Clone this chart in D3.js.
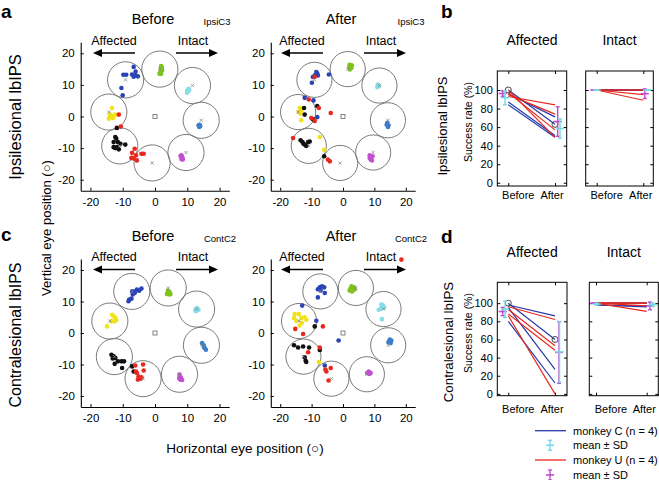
<!DOCTYPE html>
<html><head><meta charset="utf-8">
<script src="https://cdn.jsdelivr.net/npm/d3@7"></script>
<style>body{margin:0;background:#fff}svg{display:block;font-family:"Liberation Sans",Arial,sans-serif}</style>
</head><body><script>
// ---------------- DATA ----------------
const colorKeys = ["B","G","C","S","M","R","K","Y"];
const dotColors = ["#2b44b5","#7dc21e","#86dde9","#3d7ec9","#c24fcf","#e8281f","#111111","#f2e21b"];
const axisTicks = [-20,-10,0,10,20];
const rateTicks = [0,20,40,60,80,100];
const phaseLabels = ["Before","After"];

// target centres (deg), order = colorKeys
const ipsiTargets = [[-9.1,11.6],[1.5,15.0],[11.6,9.8],[14.3,-1.2],[9.6,-11.4],[-0.9,-14.7],[-10.9,-9.3],[-14.3,1.4]];
const contTargets = [[-7.2,13.2],[4.1,14.3],[12.9,7.6],[14.4,-3.9],[7.6,-13.1],[-3.7,-14.5],[-12.6,-7.5],[-14.0,3.8]];

// fixation end points (deg)
const ipsiBefore = [
 [-9.8,13.2,"B"],[-8.9,13.2,"B"],[-7.1,13.3,"B"],[-6.6,15.7,"B"],[-6.1,13.0,"B"],[-5.3,12.7,"B"],[-6.6,12.6,"B"],[-10.4,9.0,"B"],[-10.0,6.7,"B"],[-6.0,14.2,"B"],
 [1.9,16,"G"],[1.8,15.1,"G"],[2.2,14.6,"G"],[1.6,14,"G"],[1.9,13.5,"G"],[1.4,13.5,"G"],[2.1,15.5,"G"],
 [10.4,8.8,"C"],[10.2,7.9,"C"],[9.9,7.5,"C"],[10.6,8.4,"C"],[10.0,8.2,"C"],
 [13.5,-2.8,"S"],[13.7,-3.3,"S"],[14,-3.0,"S"],[13.8,-2.6,"S"],
 [8.2,-12.3,"M"],[8.4,-12.8,"M"],[8.6,-13.6,"M"],[8.2,-13.5,"M"],[7.9,-12.5,"M"],[8.5,-13.2,"M"],
 [-13.3,2.7,"Y"],[-13.8,0.6,"Y"],[-14.3,-0.7,"Y"],[-13.7,-0.2,"Y"],[-12.8,0.2,"Y"],[-12.3,0.6,"Y"],[-13.0,-0.5,"Y"],[-14.0,0.2,"Y"],
 [-11.8,-3.6,"K"],[-12.3,-6.5,"K"],[-12,-7.0,"K"],[-12.8,-8.1,"K"],[-11.5,-8.1,"K"],[-12.3,-10,"K"],[-12.8,-9.7,"K"],[-11.2,-10.4,"K"],[-10.7,-8.6,"K"],[-9.2,-8.9,"K"],[-11.8,-9.7,"K"],
 [-11.2,0.6,"R"],[-10.6,-3.2,"R"],[-6.3,-10.2,"R"],[-7.1,-11.5,"R"],[-5.9,-12.3,"R"],[-5.6,-13.9,"R"],[-6.6,-13.3,"R"],[-7.3,-13.1,"R"],[-4.2,-11.8,"R"],[-3.5,-11.8,"R"]
];
const ipsiAfter = [
 [-8.5,14.1,"B"],[-8.2,13.6,"B"],[-8,13.0,"B"],[-9,13.0,"B"],[-9.6,12.5,"B"],[-9.9,10.7,"B"],[-4.5,13.3,"B"],[-12.2,5.9,"B"],[-9.4,5.1,"B"],[-8.2,-0.2,"B"],
 [2.1,16.4,"G"],[2.4,16,"G"],[2.7,15.4,"G"],[2.2,14.9,"G"],[2,15.7,"G"],[2.8,16.2,"G"],
 [11.1,10.1,"C"],[11.4,9.6,"C"],[10.9,9.3,"C"],
 [14.1,-2,"S"],[14.5,-2.8,"S"],[14.3,-3.3,"S"],[13.9,-2.6,"S"],
 [8.5,-12.3,"M"],[9,-12.8,"M"],[8.8,-13.6,"M"],[9.4,-12.6,"M"],[8.5,-13.1,"M"],[9.2,-13.9,"M"],
 [-13.8,2.7,"Y"],[-13.3,2.0,"Y"],[-14.1,1.4,"Y"],[-13.5,0.9,"Y"],[-13,2.5,"Y"],[-13.3,-1.2,"Y"],[-7.4,-6.5,"Y"],[-6,-10.5,"Y"],
 [-8.2,3.3,"K"],[-12.4,2.7,"K"],[-12.2,0.6,"K"],[-9.6,-0.9,"K"],[-13.5,-7.5,"K"],[-12.9,-8.1,"K"],[-12.6,-8.6,"K"],[-12.2,-8.9,"K"],[-11.7,-9.3,"K"],[-11.1,-8.1,"K"],[-10.6,-7.9,"K"],[-6,-12.6,"K"],
 [-9,12.6,"R"],[-10.9,5.4,"R"],[-7.7,2.7,"R"],[-10.1,-0.5,"R"],[-9,-1.4,"R"],[-3.9,1.1,"R"],[-15.9,-6.8,"R"],[-4.8,-13.6,"R"],[-4.2,-14.2,"R"]
];
const contBefore = [
 [-8.2,10.1,"B"],[-7.3,10.9,"B"],[-6.9,12.2,"B"],[-6.1,13.2,"B"],[-5.6,13.8,"B"],[-4.9,13.4,"B"],[-4.2,14.1,"B"],[-6.3,12.7,"B"],[-7.1,13.2,"B"],[-8.0,10.6,"B"],
 [4,13.4,"G"],[4.5,13,"G"],[4.8,12.4,"G"],[4,12.5,"G"],[3.7,12.4,"G"],[4.5,12.2,"G"],
 [12.5,7.4,"C"],[13,7.9,"C"],[13.5,7.4,"C"],[12.7,6.9,"C"],
 [14.6,-3.2,"S"],[15.1,-3.9,"S"],[15.4,-4.8,"S"],[15.8,-5.3,"S"],[15.2,-4.5,"S"],
 [7.6,-13.2,"M"],[8.0,-14.1,"M"],[7.8,-14.8,"M"],[8.4,-14.9,"M"],[7.5,-14.3,"M"],
 [-13.3,5.8,"Y"],[-12.8,5.3,"Y"],[-12.3,4.8,"Y"],[-12,4.1,"Y"],[-12.6,3.7,"Y"],[-13.5,3.7,"Y"],[-14.9,2.1,"Y"],
 [-13.5,-6.9,"K"],[-12.8,-7.4,"K"],[-13.1,-8.1,"K"],[-12.3,-7.9,"K"],[-11.5,-9,"K"],[-10.4,-9,"K"],[-9.6,-9,"K"],[-10.2,-11.1,"K"],[-12.5,-9.8,"K"],[-7.1,-10.6,"K"],[-6.6,-12.2,"K"],
 [-6.1,-10.3,"R"],[-3.7,-10,"R"],[-3.5,-11.9,"R"],[-5.6,-12.7,"R"],[-5.1,-13.8,"R"],[-4.5,-14.5,"R"],[-5.3,-14.8,"R"],[-4.2,-14.1,"R"],[-5.9,-12.2,"R"]
];
const contAfter = [
 [-7.4,14.5,"B"],[-6.7,14.8,"B"],[-6,14.5,"B"],[-8,13.9,"B"],[-7.1,13.5,"B"],[-5.8,12.7,"B"],[-8,11.3,"B"],[-13,8.7,"B"],[-8.5,3.9,"B"],[-1.4,-2.4,"B"],[-5.8,-10.3,"B"],
 [2.4,14.1,"G"],[3.2,14.3,"G"],[3.7,13.8,"G"],[2.9,13.2,"G"],[2.1,13.5,"G"],[3.5,14.5,"G"],[2.7,14.8,"G"],
 [12.2,9,"C"],[12.7,8.8,"C"],[13.1,8.1,"C"],[11.4,7.4,"C"],[12,7.7,"C"],[12.4,4.4,"C"],
 [14.9,-2.1,"S"],[15.4,-2.4,"S"],[14.5,-2.9,"S"],[15.2,-3.2,"S"],[15.0,-2.6,"S"],
 [8.2,-12.2,"M"],[8.8,-12.7,"M"],[8.4,-13,"M"],[7.7,-12.7,"M"],
 [-15.4,6,"Y"],[-14.1,6,"Y"],[-15.6,4.8,"Y"],[-14.9,3.9,"Y"],[-13.3,4.8,"Y"],[-12.2,5,"Y"],[-11.7,4.2,"Y"],[-13.1,3.2,"Y"],[-13.8,2.4,"Y"],[-7.7,-9.2,"Y"],
 [-9,2.1,"K"],[-15.6,-3.9,"K"],[-14.3,-4.6,"K"],[-12.7,-4.3,"K"],[-10.8,-4.6,"K"],[-7.4,-5.4,"K"],[-12.2,-7.7,"K"],[-11.9,-8.8,"K"],[-11.7,-9.2,"K"],
 [-15.2,1.3,"R"],[-12.7,-0.3,"R"],[-6.4,2.1,"R"],[-7.4,-4.6,"R"],[-11.1,-6.1,"R"],[-3.9,-11.1,"R"],[-5.6,-11.6,"R"],[-5.3,-12.2,"R"],[-4.6,-15.1,"R"],[18.6,23.3,"R"]
];

// success rates (%) — [before, after] per session
const ipsiAffC = [[100,63],[96,71],[87,51],[84,49]];
const ipsiAffU = [[93,84],[95,74],[97,57],[100,49]];
const ipsiIntC = [[100,100],[100,100],[100,100],[100,100]];
const ipsiIntU = [[100,100],[100,100],[100,95],[100,89]];
const contAffC = [[100,60],[98,86],[95,27],[80,12]];
const contAffU = [[96,82],[93,53],[88,48],[86,0]];
const contIntC = [[100,100],[100,100],[98,97],[98,96]];
const contIntU = [[100,100],[100,100],[100,97],[100,91]];

// ---------------- DRAW ----------------
const svg = d3.select("body").append("svg").attr("width",659).attr("height",480);
const FONT = '"Liberation Sans",Arial,sans-serif';
const color = d3.scaleOrdinal().domain(colorKeys).range(dotColors);
const colC = "#2438aa", colU = "#e8281f", colCm = "#74dbe4", colUm = "#c04ad0";

function text(x,y,s,size,opts={}){
  const t = svg.append("text").attr("x",x).attr("y",y).text(s)
    .attr("font-size",size).attr("font-family",FONT)
    .attr("text-anchor",opts.anchor||"middle").attr("fill","#000");
  if(opts.bold) t.attr("font-weight","bold");
  if(opts.rot) t.attr("transform",`rotate(-90,${x},${y})`);
  return t;
}
function arrow(g,x1,x2,y){
  const dir = Math.sign(x2-x1);
  g.append("line").attr("x1",x1).attr("x2",x2-dir*8).attr("y1",y).attr("y2",y).attr("stroke","#000").attr("stroke-width",1.3);
  g.append("path").attr("d",`M${x2},${y}L${x2-dir*9},${y-4}L${x2-dir*9},${y+4}Z`).attr("fill","#000");
}

function scatterPanel(cfg){
  const x = d3.scaleLinear().domain([-23,23]).range([cfg.x0-23*cfg.sx, cfg.x0+23*cfg.sx]);
  const y = d3.scaleLinear().domain([-23.5,23.5]).range([cfg.y0+23.5*cfg.sy, cfg.y0-23.5*cfg.sy]);
  const g = svg.append("g");
  const fmt = d=>String(d);
  const gx = g.append("g").attr("transform",`translate(0,${y(-23.5)})`)
    .call(d3.axisBottom(x).tickValues(axisTicks).tickSizeInner(-3).tickSizeOuter(0).tickPadding(7).tickFormat(fmt));
  const gy = g.append("g").attr("transform",`translate(${x(-23)},0)`)
    .call(d3.axisLeft(y).tickValues(axisTicks).tickSizeInner(-3).tickSizeOuter(0).tickPadding(6).tickFormat(fmt));
  [gx,gy].forEach(a=>{a.selectAll("text").attr("font-size",11.5).attr("font-family",FONT).attr("fill","#000");
    a.select(".domain").attr("stroke","#000").attr("stroke-width",1.1);
    a.selectAll(".tick line").attr("stroke","#000");});
  const r = cfg.sx*5.6;
  g.selectAll(".tc").data(cfg.targets).join("circle")
    .attr("cx",d=>x(d[0])).attr("cy",d=>y(d[1])).attr("r",r)
    .attr("fill","none").attr("stroke","#7a7a7a").attr("stroke-width",1);
  g.selectAll(".dot").data(cfg.dots).join("circle")
    .attr("cx",d=>x(d[0])).attr("cy",d=>y(d[1])).attr("r",2.3).attr("fill",d=>color(d[2]));
  const s=1.6;
  g.selectAll(".xm").data(cfg.targets).join("path")
    .attr("d",d=>{const cx=x(d[0]),cy=y(d[1]);return `M${cx-s},${cy-s}L${cx+s},${cy+s}M${cx-s},${cy+s}L${cx+s},${cy-s}`;})
    .attr("stroke","#888").attr("stroke-width",0.8);
  g.append("rect").attr("x",x(0)-2).attr("y",y(0)-2).attr("width",4).attr("height",4)
    .attr("fill","#fff").attr("stroke","#777").attr("stroke-width",0.9);
  // direction arrows
  const ay = cfg.y0-63.5;
  arrow(g, cfg.x0-20, cfg.x0-62, ay);
  arrow(g, cfg.x0+21, cfg.x0+63, ay);
  text(cfg.x0-41, cfg.y0-72, "Affected", 12.5);
  text(cfg.x0+38, cfg.y0-72, "Intact", 12.5);
  text(cfg.x0-2, cfg.y0-92.5, cfg.title, 14.5);
  text(cfg.x0+cfg.tagDx, cfg.y0-91.5, cfg.tag, 9.5);
}

scatterPanel({x0:155,sx:3.23,y0:116.5,sy:3.16,targets:ipsiTargets,dots:ipsiBefore,title:phaseLabels[0],tag:"IpsiC3",tagDx:62});
scatterPanel({x0:343,sx:3.14,y0:116.5,sy:3.16,targets:ipsiTargets,dots:ipsiAfter,title:phaseLabels[1],tag:"IpsiC3",tagDx:68});
scatterPanel({x0:155,sx:3.225,y0:333,sy:3.15,targets:contTargets,dots:contBefore,title:phaseLabels[0],tag:"ContC2",tagDx:65});
scatterPanel({x0:343,sx:3.14,y0:333,sy:3.15,targets:contTargets,dots:contAfter,title:phaseLabels[1],tag:"ContC2",tagDx:68});

// ---- success-rate boxes ----
const mean = a=>d3.mean(a), sd = a=>d3.deviation(a)||0;
function errbar(g,x,vals,y,col){
  const m=mean(vals), s=sd(vals);
  g.append("line").attr("x1",x).attr("x2",x).attr("y1",y(m-s)).attr("y2",y(m+s)).attr("stroke",col).attr("stroke-width",1.4);
  [m-s,m+s].forEach(v=>g.append("line").attr("x1",x-2).attr("x2",x+2).attr("y1",y(v)).attr("y2",y(v)).attr("stroke",col).attr("stroke-width",1.4));
  g.append("line").attr("x1",x-4).attr("x2",x+4).attr("y1",y(m)).attr("y2",y(m)).attr("stroke",col).attr("stroke-width",1.6);
}
function ratePanel(cfg){
  const y = d3.scaleLinear().domain(cfg.yDom).range([cfg.bottom,cfg.top]);
  const x = d3.scaleLinear().domain([0,1]).range([cfg.xb,cfg.xa]);
  const g = svg.append("g");
  g.append("rect").attr("x",cfg.left).attr("y",cfg.top).attr("width",cfg.right-cfg.left).attr("height",cfg.bottom-cfg.top)
    .attr("fill","none").attr("stroke","#000").attr("stroke-width",1);
  const ly = g.append("g").attr("transform",`translate(${cfg.left},0)`)
    .call(d3.axisLeft(y).tickValues(rateTicks).tickSizeInner(-3).tickSizeOuter(0).tickPadding(4.5).tickFormat(cfg.labels?(d=>String(d)):""));
  const ry = g.append("g").attr("transform",`translate(${cfg.right},0)`)
    .call(d3.axisRight(y).tickValues(rateTicks).tickSizeInner(-3).tickSizeOuter(0).tickFormat(""));
  const bx = g.append("g").attr("transform",`translate(0,${cfg.bottom})`)
    .call(d3.axisBottom(x).tickValues([0,1]).tickSizeInner(-3).tickSizeOuter(0).tickFormat(""));
  const tx = g.append("g").attr("transform",`translate(0,${cfg.top})`)
    .call(d3.axisTop(x).tickValues([0,1]).tickSizeInner(-3).tickSizeOuter(0).tickFormat(""));
  [ly,ry,bx,tx].forEach(a=>{a.select(".domain").remove();a.selectAll(".tick line").attr("stroke","#000");
    a.selectAll("text").attr("font-size",11).attr("font-family",FONT).attr("fill","#000");});
  const line = d3.line().x((d,i)=>x(i)).y(d=>y(d));
  g.selectAll(".lc").data(cfg.C).join("path").attr("d",d=>line(d)).attr("fill","none").attr("stroke",colC).attr("stroke-width",1.2);
  g.selectAll(".lu").data(cfg.U).join("path").attr("d",d=>line(d)).attr("fill","none").attr("stroke",colU).attr("stroke-width",1.2);
  if(cfg.mark){
    [0,1].forEach(i=>g.append("circle").attr("cx",x(i)).attr("cy",y(cfg.C[0][i])).attr("r",3)
      .attr("fill","none").attr("stroke","#333").attr("stroke-width",0.9));
  }
  [0,1].forEach(i=>{
    errbar(g,x(i)+cfg.offU[i],cfg.U.map(d=>d[i]),y,colUm);
    errbar(g,x(i)+cfg.offC[i],cfg.C.map(d=>d[i]),y,colCm);
  });
  text(x(0)+cfg.lb[0], cfg.lblY, phaseLabels[0], 11);
  text(x(1)+cfg.lb[1], cfg.lblY, phaseLabels[1], 11);
  text((cfg.left+cfg.right)/2, cfg.titleY, cfg.title, 14);
}
ratePanel({left:497.3,right:566.7,top:71,bottom:186,yDom:[-3.5,120.5],xb:508.3,xa:555,labels:true,C:ipsiAffC,U:ipsiAffU,mark:true,
  offU:[-5.6,2.7],offC:[-3.3,5],lb:[10,-3],lblY:199,title:"Affected",titleY:44.5});
ratePanel({left:585.7,right:653.3,top:71,bottom:186,yDom:[-3.5,120.5],xb:596.7,xa:643.3,labels:false,C:ipsiIntC,U:ipsiIntU,
  offU:[-2.5,1.5],offC:[0,4],lb:[10,-2.6],lblY:199,title:"Intact",titleY:44.5});
ratePanel({left:497.3,right:567,top:282.3,bottom:395.7,yDom:[-2,123],xb:508.3,xa:555,labels:true,C:contAffC,U:contAffU,mark:true,
  offU:[-5.6,4],offC:[-3.3,4.5],lb:[10,-3],lblY:412.5,title:"Affected",titleY:257});
ratePanel({left:589.3,right:658.3,top:282.3,bottom:395.7,yDom:[-2,123],xb:596,xa:646.7,labels:false,C:contIntC,U:contIntU,
  offU:[-2,3.3],offC:[0.7,6],lb:[15,-2.4],lblY:412.5,title:"Intact",titleY:257});

// ---- panel letters & labels ----
text(1,18,"a",19,{anchor:"start",bold:true});
text(441,18,"b",19,{anchor:"start",bold:true});
text(1,241,"c",19,{anchor:"start",bold:true});
text(441,243,"d",19,{anchor:"start",bold:true});
text(20.5,117,"Ipsilesional lbIPS",16.5,{rot:true});
text(20.5,335,"Contralesional lbIPS",16,{rot:true});
text(51,228,"Vertical eye position (○)",13,{rot:true});
text(245,453,"Horizontal eye position (○)",13.5);
text(447,126,"Ipsilesional lbIPS",13,{rot:true});
text(452.5,342,"Contralesional lbIPS",13.3,{rot:true});
text(472,122,"Success rate (%)",10.5,{rot:true});
text(472,333,"Success rate (%)",10.5,{rot:true});

// ---- legend ----
const legendLabels = ["monkey C (n = 4)","mean \u00B1 SD","monkey U (n = 4)","mean \u00B1 SD"];
const legendY = [430.7,445.3,460,475];
const lg = svg.append("g");
[[0,colC],[2,colU]].forEach(([i,c])=>lg.append("line").attr("x1",535).attr("x2",566).attr("y1",legendY[i]).attr("y2",legendY[i]).attr("stroke",c).attr("stroke-width",1.3));
[[1,colCm],[3,colUm]].forEach(([i,c])=>{
  const yy=legendY[i];
  lg.append("line").attr("x1",550).attr("x2",550).attr("y1",yy-5).attr("y2",yy+5).attr("stroke",c).attr("stroke-width",1.4);
  [yy-5,yy+5].forEach(v=>lg.append("line").attr("x1",548).attr("x2",552).attr("y1",v).attr("y2",v).attr("stroke",c).attr("stroke-width",1.4));
  lg.append("line").attr("x1",546).attr("x2",554).attr("y1",yy).attr("y2",yy).attr("stroke",c).attr("stroke-width",1.6);
});
legendLabels.forEach((s,i)=>text(573,legendY[i]+4,s,11,{anchor:"start"}));
</script></body></html>
